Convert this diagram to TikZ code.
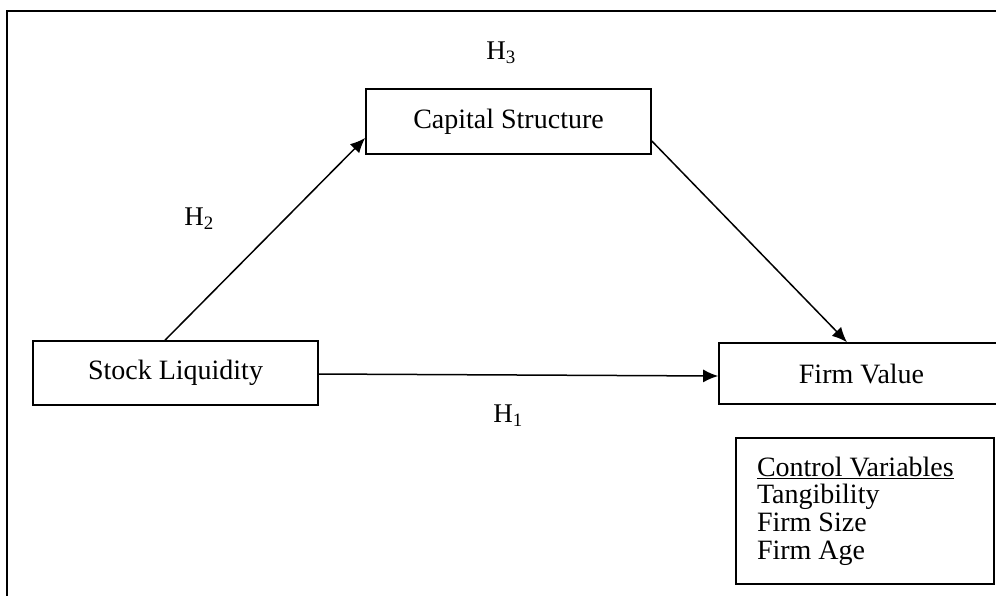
\documentclass[tikz,border=0pt]{standalone}
\usepackage{fontspec}
\setmainfont{Liberation Serif}
\usepackage{tikz}
\usetikzlibrary{shapes,calc,arrows.meta,positioning}

\begin{document}
\begin{tikzpicture}[x=1pt,y=-1pt,
    varbox/.style={draw,line width=1.6pt,minimum width=285pt,inner sep=0pt,font=\fontsize{28}{27.7}\selectfont},
    hlabel/.style={font=\fontsize{27}{27.7}\selectfont,inner sep=0pt},
    link/.style={line width=1.5pt,-{Latex[length=15pt,width=13pt]}}]
  \useasboundingbox (0,0) rectangle (996,595);
  \draw[line width=2.6pt] (7,11) rectangle (1010,610);
  \node[varbox,minimum height=65pt] (cs) at (508.5,121.5) {Capital Structure};
  \node[varbox,minimum height=64pt] (sl) at (175.5,373) {Stock Liquidity};
  \node[varbox,minimum height=61pt] (fv) at (861.5,373.5) {Firm Value};
  \node[draw,line width=1.6pt,minimum width=258pt,minimum height=146pt,text width=216pt,
        inner xsep=21pt,inner ysep=0pt,align=flush left,font=\fontsize{28}{27.7}\selectfont] (ctrl) at (865,511)
        {\underline{Control Variables}\\Tangibility\\Firm Size\\Firm Age};
  \node[hlabel] (h3) at (501,53) {H\textsubscript{3}};
  \node[hlabel] (h2) at (199,219) {H\textsubscript{2}};
  \node[hlabel] (h1) at (508,416) {H\textsubscript{1}};
  \draw[link] ([xshift=-10.5pt]sl.north) -- ([yshift=-16.5pt]cs.west);
  \draw[link] ([yshift=-19.5pt]cs.east) -- ([xshift=-14.5pt]fv.north);
  \draw[link] ([yshift=-1pt]sl.east) -- ([yshift=-2.5pt]fv.west);
\end{tikzpicture}
\end{document}
